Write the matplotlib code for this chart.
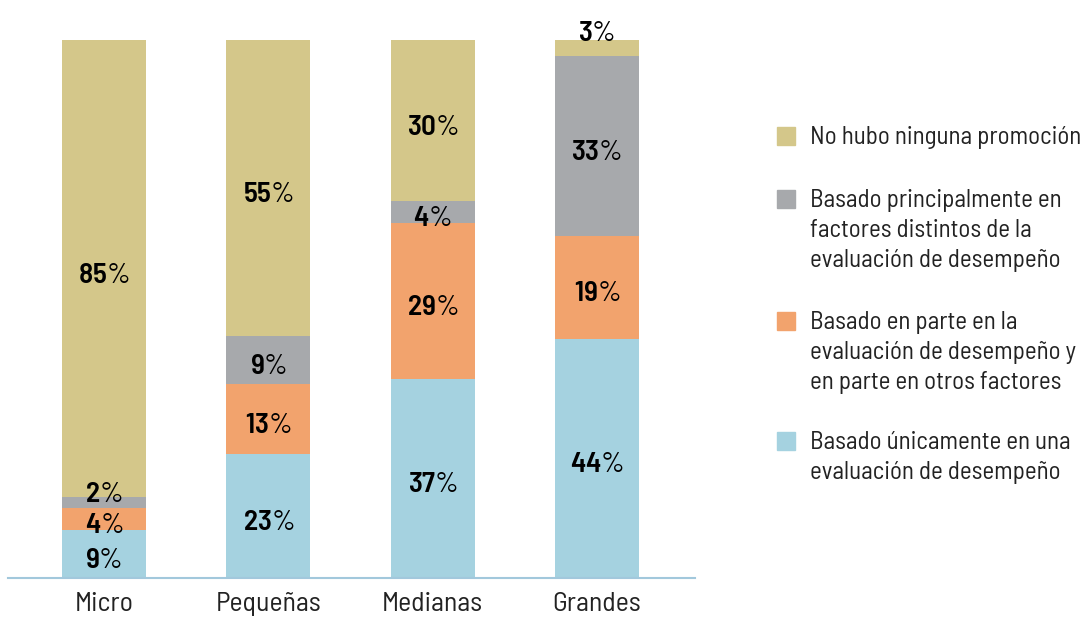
import numpy as np
import matplotlib.pyplot as plt
from matplotlib.patches import Rectangle

# data
categories = ['Micro', 'Pequeñas', 'Medianas', 'Grandes']
unicamente = [9, 23, 37, 44]
en_parte = [4, 13, 29, 19]
principalmente = [2, 9, 4, 33]
ninguna = [85, 55, 30, 3]

series = [unicamente, en_parte, principalmente, ninguna]
labels = ['Basado únicamente en una\nevaluación de desempeño',
          'Basado en parte en la\nevaluación de desempeño y\nen parte en otros factores',
          'Basado principalmente en\nfactores distintos de la\nevaluación de desempeño',
          'No hubo ninguna promoción']
colors = ['#A5D2E0', '#F2A36D', '#A7A9AC', '#D4C78A']

FONT = 'Barlow Semi Condensed'
plt.rcParams['font.family'] = [FONT, 'DejaVu Sans']
plt.rcParams['mathtext.fontset'] = 'custom'
plt.rcParams['mathtext.rm'] = FONT
plt.rcParams['mathtext.bf'] = FONT + ':semibold'

fig = plt.figure(figsize=(10.88, 6.17), dpi=100)
ax = fig.add_axes([8 / 1088, 1 - 578 / 617, 687 / 1088, 538 / 617])

x = np.arange(len(categories))
totals = np.sum(series, axis=0)
bottom = np.zeros(len(categories))
for vals, col in zip(series, colors):
    h = np.array(vals) / totals * 100  # bars fill 100%
    ax.bar(x, h, bottom=bottom, width=0.51, color=col, edgecolor='none')
    for xi, b, v, hv in zip(x, bottom, vals, h):
        yc = b + hv / 2
        if v <= 3:
            yc = b + hv + 0.6 * hv + 0.5  # small segments: label sits on top
        ax.annotate(r'$\mathbf{%d}$%%' % v, (xi, yc), xytext=(0, -5),
                    textcoords='offset points', ha='center', va='center',
                    fontsize=21, color='black', annotation_clip=False)
    bottom += h

ax.set_xlim(-0.584, 3.596)
ax.set_ylim(0, 100)
ax.set_xticks(x)
ax.set_xticklabels(categories, fontsize=20, color='#222222')
ax.tick_params(axis='x', length=0, pad=10)
ax.set_yticks([])
for s in ['top', 'right', 'left']:
    ax.spines[s].set_visible(False)
ax.spines['bottom'].set_color('#A2C8DC')
ax.spines['bottom'].set_linewidth(1.5)

# legend drawn by hand
entry_tops = [441, 321, 199, 136]
for lab, col, ty in zip(labels, colors, entry_tops):
    fig.patches.append(Rectangle((777 / 1088, 1 - (ty + 9) / 617), 18 / 1088, 18 / 617,
                                 transform=fig.transFigure, color=col))
    fig.text(810 / 1088, 1 - (ty - 10) / 617, lab, fontsize=18, va='top', ha='left',
             linespacing=1.39, color='#222222')

fig.savefig('out.png', dpi=100)
